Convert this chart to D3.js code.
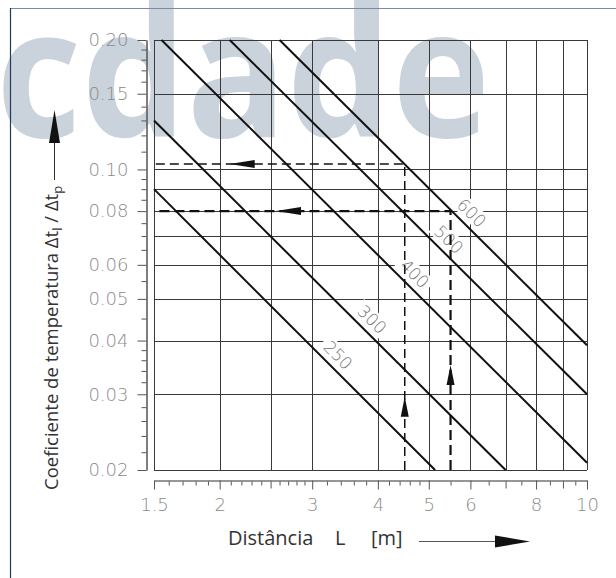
<!DOCTYPE html>
<html>
<head>
<meta charset="utf-8">
<script src="https://cdn.jsdelivr.net/npm/d3@7"></script>
<style>
  html, body { margin: 0; padding: 0; background: #fff; }
  svg { display: block; }
</style>
</head>
<body>
<svg id="chart" width="616" height="578"></svg>
<script>
// chart values
const xTickValues = [1.5, 2, 3, 4, 5, 6, 8, 10];
const xTickLabels = ["1.5", "2", "3", "4", "5", "6", "8", "10"];
const xGridValues = [1.5, 2, 2.5, 3, 4, 5, 6, 7, 8, 9, 10];
const xMinorValues = [1.6, 1.7, 1.8, 1.9, 2.1, 2.2, 2.3, 2.4, 2.6, 2.7, 2.8, 2.9,
                      3.2, 3.4, 3.6, 3.8, 4.2, 4.4, 4.6, 4.8, 5.5, 6.5, 7.5, 8.5, 9.5];
const xMidValues = [2.5, 7, 9];

const yTickValues = [0.20, 0.15, 0.10, 0.08, 0.06, 0.05, 0.04, 0.03, 0.02];
const yTickLabels = ["0.20", "0.15", "0.10", "0.08", "0.06", "0.05", "0.04", "0.03", "0.02"];
const yGridValues = [0.20, 0.15, 0.10, 0.09, 0.08, 0.07, 0.06, 0.05, 0.04, 0.03, 0.02];
const yMinorValues = [0.19, 0.18, 0.17, 0.16, 0.14, 0.13, 0.12, 0.11, 0.095, 0.09, 0.085,
                      0.075, 0.07, 0.065, 0.055, 0.045, 0.038, 0.036, 0.034, 0.032,
                      0.028, 0.026, 0.024, 0.022];

const curveNames = ["250", "300", "400", "500", "600"];
const curveStart = [[1.5, 0.09], [1.5, 0.13], [1.55, 0.2], [2.09, 0.2], [2.6, 0.2]];
const curveEnd = [[5.14, 0.02], [7.0, 0.02], [10, 0.0208], [10, 0.030], [10, 0.039]];
const curveLabelAt = [3.23, 3.75, 4.52, 5.25, 5.80];

const readL = [4.5, 5.5];
const readCoef = [0.103, 0.08];
const arrowUpAt = [0.0296, 0.0351];
const arrowLeftAt = [2.09, 2.56];

const svg = d3.select('#chart');
const lightFont = '"DejaVu Sans", sans-serif';
const titleFont = '"Open Sans", "Noto Sans", sans-serif';

const x = d3.scaleLog().domain([1.5, 10]).range([154, 587]);
const y = d3.scaleLog().domain([0.02, 0.2]).range([470, 40]);

// watermark
svg.append('text')
  .attr('x', -4).attr('y', 137)
  .attr('textLength', 494).attr('lengthAdjust', 'spacingAndGlyphs')
  .style('font-family', titleFont).style('font-weight', 700)
  .style('font-size', '180px').style('fill', '#cad2dc')
  .text('cdade');

// frame
svg.append('line').attr('x1', 10).attr('x2', 616).attr('y1', 8.5).attr('y2', 8.5)
  .attr('stroke', '#7d8ba0').attr('stroke-width', 1.2);
svg.append('line').attr('x1', 10.5).attr('x2', 10.5).attr('y1', 8).attr('y2', 578)
  .attr('stroke', '#1e3a5c').attr('stroke-width', 1.2);

// grid
const grid = svg.append('g');
grid.selectAll('.gx').data(xGridValues).enter().append('line')
  .attr('x1', d => Math.round(x(d)) + 0.5).attr('x2', d => Math.round(x(d)) + 0.5)
  .attr('y1', y(0.2)).attr('y2', y(0.02))
  .attr('stroke', '#3a3a3a').attr('stroke-width', 1);
grid.selectAll('.gy').data(yGridValues).enter().append('line')
  .attr('y1', d => Math.round(y(d)) + 0.5).attr('y2', d => Math.round(y(d)) + 0.5)
  .attr('x1', x(1.5)).attr('x2', x(10))
  .attr('stroke', '#3a3a3a').attr('stroke-width', 1);

// y axis (separate from plot)
const yAxisG = svg.append('g').attr('transform', 'translate(146.5,0)');
yAxisG.call(d3.axisLeft(y).tickValues(yMinorValues).tickSize(5).tickSizeOuter(0).tickFormat(''));
const yMajor = svg.append('g').attr('transform', 'translate(146.5,0)')
  .call(d3.axisLeft(y).tickValues(yTickValues).tickSize(9).tickSizeOuter(0)
    .tickPadding(9).tickFormat((d, i) => yTickLabels[i]));
svg.selectAll('.domain').attr('stroke', '#555');
[yAxisG, yMajor].forEach(g => g.selectAll('.tick line').attr('stroke', '#555'));
yMajor.selectAll('text').style('font-family', lightFont).style('font-weight', 200)
  .style('font-size', '18px').attr('fill', '#8a8a8a');

// x axis (separate from plot)
const xAxisG = svg.append('g').attr('transform', 'translate(0,480.5)');
xAxisG.call(d3.axisBottom(x).tickValues(xMinorValues).tickSize(5).tickSizeOuter(0).tickFormat(''));
const xMid = svg.append('g').attr('transform', 'translate(0,480.5)')
  .call(d3.axisBottom(x).tickValues(xMidValues).tickSize(8).tickSizeOuter(0).tickFormat(''));
const xMajor = svg.append('g').attr('transform', 'translate(0,480.5)')
  .call(d3.axisBottom(x).tickValues(xTickValues).tickSize(9).tickSizeOuter(0)
    .tickPadding(9).tickFormat((d, i) => xTickLabels[i]));
[xAxisG, xMid, xMajor].forEach(g => {
  g.selectAll('.tick line').attr('stroke', '#555');
  g.select('.domain').attr('stroke', '#888');
});
xMajor.selectAll('text').style('font-family', lightFont).style('font-weight', 200)
  .style('font-size', '18px').attr('fill', '#8a8a8a');

// curves
const curves = curveNames.map((name, i) => ({ name: name, pts: [curveStart[i], curveEnd[i]], at: curveLabelAt[i] }));
const line = d3.line().x(d => x(d[0])).y(d => y(d[1]));
svg.append('g').selectAll('path').data(curves).enter().append('path')
  .attr('d', d => line(d.pts))
  .attr('fill', 'none').attr('stroke', '#111').attr('stroke-width', 2);

// curve labels
const lab = svg.append('g').selectAll('g').data(curves).enter().append('g')
  .attr('transform', d => {
    const p0 = d.pts[0], p1 = d.pts[1];
    const k = Math.log(p1[1] / p0[1]) / Math.log(p1[0] / p0[0]);
    const yv = p0[1] * Math.pow(d.at / p0[0], k);
    const px = x(d.at), py = y(yv);
    const ang = Math.atan2(y(p1[1]) - y(p0[1]), x(p1[0]) - x(p0[0])) * 180 / Math.PI;
    return 'translate(' + (px + 9) + ',' + (py - 9) + ') rotate(' + ang + ')';
  });
lab.append('rect').attr('x', -20).attr('y', -9).attr('width', 40).attr('height', 18).attr('fill', '#fff');
lab.append('text').attr('text-anchor', 'middle').attr('dy', '0.36em')
  .style('font-family', lightFont).style('font-weight', 200).style('font-size', '17px')
  .attr('fill', '#777').text(d => d.name);

// dashed reading lines
const dashW = [1.5, 2.2];
const dashA = ['9,5', '10,5'];
readL.forEach((L, i) => {
  svg.append('path')
    .attr('d', line([[L, 0.02], [L, readCoef[i]], [1.5, readCoef[i]]]))
    .attr('fill', 'none').attr('stroke', '#111')
    .attr('stroke-width', dashW[i]).attr('stroke-dasharray', dashA[i]);
  const ax = x(L), ay = y(arrowUpAt[i]);
  svg.append('path').attr('d', 'M' + ax + ',' + ay + 'L' + (ax - 4) + ',' + (ay + 20) + 'L' + (ax + 4) + ',' + (ay + 20) + 'Z')
    .attr('fill', '#111');
  const hx = x(arrowLeftAt[i]), hy = y(readCoef[i]);
  svg.append('path').attr('d', 'M' + hx + ',' + hy + 'L' + (hx + 25) + ',' + (hy - 4) + 'L' + (hx + 25) + ',' + (hy + 4) + 'Z')
    .attr('fill', '#111');
});

// y title
const yt = svg.append('text')
  .attr('transform', 'translate(58,490) rotate(-90)')
  .style('font-family', titleFont).style('font-size', '18.5px').attr('fill', '#333');
yt.append('tspan').text('Coeficiente de temperatura \u0394t');
yt.append('tspan').attr('dy', 4).style('font-size', '13px').text('l');
yt.append('tspan').attr('dy', -4).text(' / \u0394t');
yt.append('tspan').attr('dy', 4).style('font-size', '13px').text('p');

svg.append('line').attr('x1', 54.5).attr('x2', 54.5).attr('y1', 180).attr('y2', 140)
  .attr('stroke', '#333').attr('stroke-width', 1);
svg.append('path').attr('d', 'M54.5,110L49,143L60,143Z').attr('fill', '#111');

// x title
const xtFont = { family: titleFont, size: '20px' };
svg.append('text').attr('x', 228).attr('y', 545).style('font-family', xtFont.family)
  .style('font-size', xtFont.size).attr('fill', '#333').text('Distância');
svg.append('text').attr('x', 335).attr('y', 545).style('font-family', xtFont.family)
  .style('font-size', xtFont.size).attr('fill', '#333').text('L');
svg.append('text').attr('x', 371).attr('y', 545).style('font-family', xtFont.family)
  .style('font-size', xtFont.size).attr('fill', '#333').text('[m]');
svg.append('line').attr('x1', 419).attr('x2', 500).attr('y1', 541.5).attr('y2', 541.5)
  .attr('stroke', '#555').attr('stroke-width', 1);
svg.append('path').attr('d', 'M530,541.5L495,535.5L495,547.5Z').attr('fill', '#111');
</script>
</body>
</html>
